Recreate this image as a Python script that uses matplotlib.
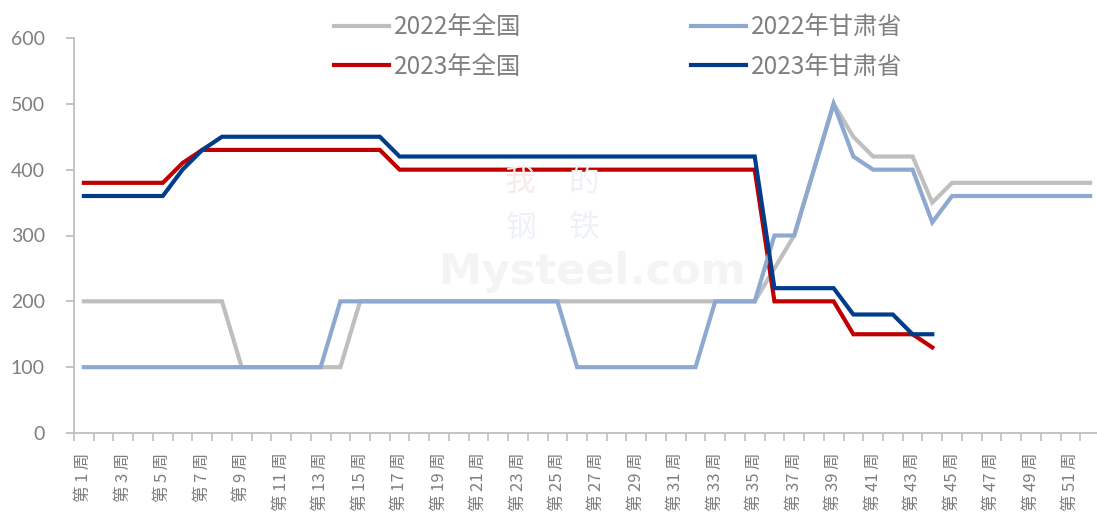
import matplotlib
matplotlib.use("Agg")
import matplotlib.pyplot as plt
import numpy as np

plt.rcParams['font.family'] = ['Noto Sans CJK SC', 'DejaVu Sans']

weeks = [f"第\u2009{i}\u2009周" for i in range(1, 53)]

nat_2022 = [200]*8 + [100]*6 + [200]*21 + [250, 300, 400, 500, 450, 420, 420, 420, 350] + [380]*8
gs_2022 = [100]*13 + [200]*12 + [100]*7 + [200]*3 + [300, 300, 400, 500, 420, 400, 400, 400, 320] + [360]*8
nat_2023 = [380]*5 + [410] + [430]*10 + [400]*19 + [200]*4 + [150]*4 + [130]
gs_2023 = [360]*5 + [400, 430] + [450]*9 + [420]*19 + [220]*4 + [180]*3 + [150, 150]

series = [
    ("2022年全国", nat_2022, "#BFBFBF"),
    ("2023年全国", nat_2023, "#C00000"),
    ("2022年甘肃省", gs_2022, "#8EA9CF"),
    ("2023年甘肃省", gs_2023, "#003C8A"),
]

fig = plt.figure(figsize=(10.97, 5.19), dpi=100)
ax = fig.add_axes([74/1097, 86/519, 1026/1097, 395/519])

# faint watermark
fig.text(592/1097, 1-272/519, "Mysteel.com", fontsize=31, fontweight="bold",
         color="#F4F4F4", ha="center", va="center", family="DejaVu Sans", zorder=0)
for (cx, cy, ch, col) in [(520, 182, "我", "#FBE9E9"), (584, 182, "的", "#EEF1F7"),
                          (520, 228, "钢", "#EEF1F7"), (584, 228, "铁", "#EEF1F7")]:
    fig.text(cx/1097, 1-cy/519, ch, fontsize=22, color=col, ha="center", va="center", zorder=0)

x = np.arange(1, 53)
draw_order = [0, 2, 1, 3]
lines = {}
for i in draw_order:
    name, vals, c = series[i]
    xs = x[:len(vals)]
    ln, = ax.plot(xs, vals, color=c, lw=3, solid_joinstyle="miter", zorder=3 + i)
    lines[name] = ln

ax.set_xlim(0.5, 52.5)
ax.set_ylim(0, 600)
ax.patch.set_alpha(0)

for s in ["top", "right"]:
    ax.spines[s].set_visible(False)
for s in ["left", "bottom"]:
    ax.spines[s].set_color("#BFBFBF")
    ax.spines[s].set_linewidth(1.3)

ax.set_yticks(range(0, 601, 100))
ax.set_yticklabels([str(v) for v in range(0, 601, 100)], fontsize=14, color="#7F7F7F", family="Lato")
ax.tick_params(axis="y", direction="out", length=6, width=1.3, color="#BFBFBF", pad=15)

ax.set_xticks(np.arange(0.5, 53, 1.0))
ax.set_xticklabels([])
ax.tick_params(axis="x", which="major", direction="out", length=6, width=1.2, color="#BFBFBF")
ax.set_xticks(x[::2], minor=True)
ax.set_xticklabels(weeks[::2], minor=True, rotation=90, fontsize=12, color="#7F7F7F")
ax.tick_params(axis="x", which="minor", length=0, pad=14)

handles = [lines[s[0]] for s in series]
labels = [s[0] for s in series]
leg = fig.legend(handles, labels, ncol=2, loc="center", bbox_to_anchor=(618/1097, 1-47/519),
                 frameon=False, fontsize=17.5, handlelength=2.25, handletextpad=0.2,
                 columnspacing=7.0, labelspacing=0.55, labelcolor="#7F7F7F")

fig.savefig("out.png", dpi=100)
